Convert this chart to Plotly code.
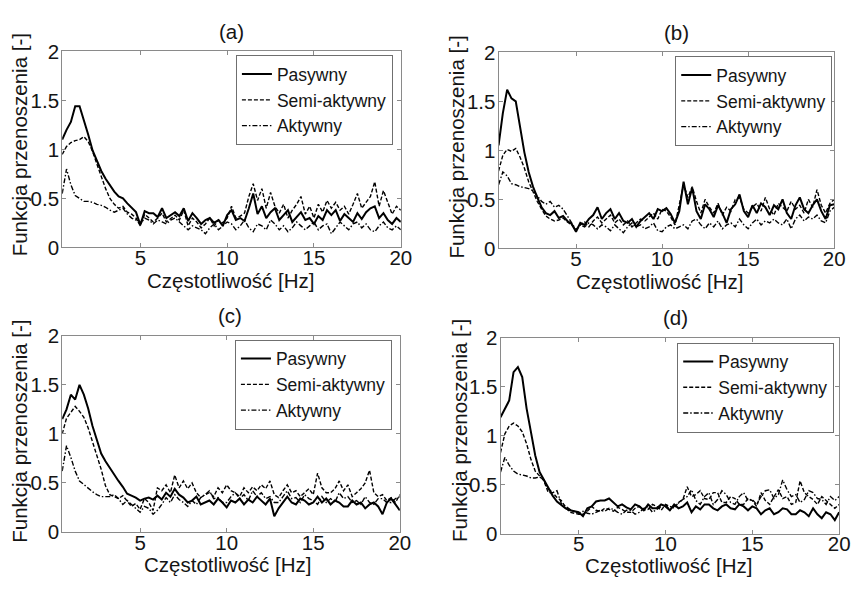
import plotly.graph_objects as go

# Frequency grid [Hz]
freq = [0.5, 0.75, 1.0, 1.25, 1.5, 1.75, 2.0, 2.25, 2.5, 2.75, 3.0, 3.25, 3.5, 3.75,
        4.0, 4.25, 4.5, 4.75, 5.0, 5.25, 5.5, 5.75, 6.0, 6.25, 6.5, 6.75, 7.0, 7.25,
        7.5, 7.75, 8.0, 8.25, 8.5, 8.75, 9.0, 9.25, 9.5, 9.75, 10.0, 10.25, 10.5, 10.75,
        11.0, 11.25, 11.5, 11.75, 12.0, 12.25, 12.5, 12.75, 13.0, 13.25, 13.5, 13.75,
        14.0, 14.25, 14.5, 14.75, 15.0, 15.25, 15.5, 15.75, 16.0, 16.25, 16.5, 16.75,
        17.0, 17.25, 17.5, 17.75, 18.0, 18.25, 18.5, 18.75, 19.0, 19.25, 19.5, 19.75, 20.0]

series_names = ["Pasywny", "Semi-aktywny", "Aktywny"]
panel_labels = ["(a)", "(b)", "(c)", "(d)"]
x_title = "Częstotliwość [Hz]"
y_title = "Funkcja przenoszenia [-]"
x_ticks = [5, 10, 15, 20]
y_ticks = [0, 0.5, 1, 1.5, 2]
y_tick_text = ["0", "0.5", "1", "1.5", "2"]

# ---- panel (a)
a_pas = [1.10, 1.20, 1.28, 1.44, 1.44, 1.30, 1.15, 0.99, 0.88, 0.78, 0.70, 0.63, 0.57, 0.52,
         0.50, 0.45, 0.40, 0.36, 0.23, 0.37, 0.35, 0.35, 0.31, 0.40, 0.30, 0.33, 0.36, 0.32,
         0.40, 0.27, 0.35, 0.30, 0.24, 0.28, 0.30, 0.25, 0.28, 0.22, 0.33, 0.38, 0.28, 0.30,
         0.27, 0.40, 0.55, 0.34, 0.42, 0.30, 0.36, 0.40, 0.28, 0.33, 0.38, 0.26,
         0.31, 0.36, 0.28, 0.30, 0.24, 0.32, 0.28, 0.38, 0.33, 0.38, 0.27, 0.34,
         0.30, 0.26, 0.35, 0.29, 0.36, 0.40, 0.42, 0.30, 0.35, 0.28, 0.24, 0.30, 0.26]
a_semi = [0.95, 1.03, 1.07, 1.09, 1.10, 1.13, 1.08, 0.98, 0.85, 0.72, 0.60, 0.50, 0.44, 0.40,
          0.42, 0.36, 0.34, 0.30, 0.22, 0.34, 0.30, 0.26, 0.30, 0.35, 0.26, 0.30, 0.33, 0.28,
          0.38, 0.22, 0.30, 0.26, 0.20, 0.24, 0.30, 0.22, 0.28, 0.25, 0.30, 0.42, 0.30, 0.32,
          0.35, 0.52, 0.65, 0.48, 0.60, 0.40, 0.56, 0.42, 0.35, 0.44, 0.30, 0.38,
          0.44, 0.52, 0.34, 0.42, 0.30, 0.44, 0.36, 0.48, 0.40, 0.46, 0.38, 0.42,
          0.34, 0.44, 0.55, 0.40, 0.46, 0.52, 0.67, 0.42, 0.58, 0.45, 0.34, 0.42, 0.38]
a_akt = [0.55, 0.80, 0.64, 0.53, 0.50, 0.47, 0.47, 0.46, 0.44, 0.43, 0.41, 0.38, 0.36, 0.38,
         0.40, 0.34, 0.30, 0.28, 0.24, 0.30, 0.28, 0.24, 0.28, 0.26, 0.24, 0.28, 0.30, 0.26,
         0.22, 0.18, 0.22, 0.20, 0.18, 0.14, 0.20, 0.24, 0.18, 0.22, 0.26, 0.24, 0.18, 0.22,
         0.28, 0.20, 0.16, 0.24, 0.22, 0.18, 0.28, 0.24, 0.18, 0.22, 0.16, 0.20,
         0.26, 0.22, 0.18, 0.22, 0.26, 0.18, 0.22, 0.24, 0.14, 0.20, 0.26, 0.22,
         0.18, 0.24, 0.26, 0.20, 0.24, 0.18, 0.16, 0.22, 0.26, 0.20, 0.18, 0.22, 0.18]

# ---- panel (b)
b_pas = [1.05, 1.38, 1.62, 1.53, 1.50, 1.22, 0.98, 0.78, 0.63, 0.52, 0.42, 0.36, 0.34, 0.38,
         0.31, 0.33, 0.28, 0.25, 0.17, 0.26, 0.24, 0.30, 0.34, 0.42, 0.30, 0.36, 0.40, 0.30,
         0.36, 0.28, 0.26, 0.30, 0.22, 0.28, 0.32, 0.36, 0.30, 0.40, 0.38, 0.41, 0.35, 0.26,
         0.38, 0.68, 0.45, 0.62, 0.38, 0.30, 0.45, 0.40, 0.32, 0.44, 0.36, 0.26,
         0.40, 0.45, 0.55, 0.38, 0.32, 0.44, 0.36, 0.46, 0.42, 0.34, 0.44, 0.40,
         0.50, 0.36, 0.30, 0.44, 0.52, 0.40, 0.36, 0.44, 0.50, 0.38, 0.30, 0.44, 0.45]
b_semi = [0.79, 0.95, 1.01, 0.99, 1.02, 0.93, 0.82, 0.68, 0.58, 0.48, 0.40, 0.33, 0.30, 0.28,
          0.29, 0.31, 0.27, 0.24, 0.19, 0.24, 0.27, 0.22, 0.28, 0.32, 0.26, 0.30, 0.34, 0.26,
          0.30, 0.24, 0.28, 0.22, 0.26, 0.30, 0.28, 0.32, 0.36, 0.30, 0.40, 0.38, 0.32, 0.24,
          0.45, 0.65, 0.52, 0.63, 0.48, 0.36, 0.50, 0.42, 0.36, 0.46, 0.34, 0.42,
          0.38, 0.50, 0.52, 0.40, 0.36, 0.42, 0.46, 0.38, 0.52, 0.40, 0.34, 0.46,
          0.42, 0.38, 0.48, 0.40, 0.44, 0.36, 0.50, 0.42, 0.60, 0.44, 0.36, 0.46, 0.50]
b_akt = [0.65, 0.78, 0.74, 0.66, 0.65, 0.63, 0.62, 0.61, 0.59, 0.53, 0.48, 0.45, 0.48, 0.42,
         0.44, 0.40, 0.33, 0.26, 0.19, 0.24, 0.22, 0.26, 0.24, 0.20, 0.24, 0.22, 0.18, 0.24,
         0.20, 0.16, 0.22, 0.26, 0.22, 0.24, 0.20, 0.22, 0.26, 0.18, 0.17, 0.22, 0.24, 0.20,
         0.22, 0.24, 0.20, 0.28, 0.30, 0.24, 0.20, 0.26, 0.22, 0.28, 0.20, 0.24,
         0.26, 0.22, 0.30, 0.24, 0.20, 0.26, 0.30, 0.24, 0.28, 0.26, 0.30, 0.26,
         0.24, 0.30, 0.20, 0.30, 0.34, 0.28, 0.32, 0.30, 0.34, 0.28, 0.26, 0.38, 0.42]

# ---- panel (c)
c_pas = [1.15, 1.25, 1.40, 1.35, 1.50, 1.40, 1.26, 1.08, 0.94, 0.80, 0.72, 0.65, 0.58, 0.52,
         0.46, 0.39, 0.37, 0.35, 0.32, 0.34, 0.35, 0.33, 0.37, 0.33, 0.40, 0.36, 0.44, 0.38,
         0.35, 0.30, 0.32, 0.36, 0.28, 0.30, 0.32, 0.28, 0.34, 0.30, 0.25, 0.32, 0.30, 0.34,
         0.28, 0.33, 0.30, 0.36, 0.32, 0.28, 0.34, 0.16, 0.24, 0.30, 0.36, 0.30,
         0.28, 0.34, 0.32, 0.28, 0.30, 0.36, 0.30, 0.34, 0.28, 0.32, 0.30, 0.26,
         0.26, 0.32, 0.28, 0.30, 0.24, 0.28, 0.30, 0.26, 0.18, 0.30, 0.34, 0.28, 0.22]
c_semi = [1.00, 1.16, 1.22, 1.28, 1.23, 1.17, 1.06, 0.92, 0.78, 0.64, 0.47, 0.38, 0.36, 0.34,
          0.37, 0.32, 0.26, 0.29, 0.23, 0.34, 0.30, 0.22, 0.45, 0.42, 0.48, 0.40, 0.58, 0.45,
          0.52, 0.44, 0.50, 0.40, 0.35, 0.38, 0.40, 0.36, 0.45, 0.40, 0.48, 0.42, 0.40, 0.36,
          0.45, 0.40, 0.46, 0.42, 0.48, 0.44, 0.52, 0.38, 0.35, 0.42, 0.48, 0.40,
          0.42, 0.36, 0.40, 0.44, 0.38, 0.60, 0.45, 0.40, 0.40, 0.44, 0.52, 0.42,
          0.48, 0.36, 0.40, 0.44, 0.50, 0.63, 0.40, 0.36, 0.38, 0.32, 0.35, 0.30, 0.38]
c_akt = [0.62, 0.88, 0.76, 0.62, 0.52, 0.48, 0.45, 0.41, 0.38, 0.36, 0.36, 0.36, 0.38, 0.34,
         0.28, 0.32, 0.28, 0.24, 0.20, 0.26, 0.24, 0.18, 0.22, 0.28, 0.35, 0.30, 0.38, 0.33,
         0.30, 0.26, 0.32, 0.28, 0.35, 0.38, 0.42, 0.34, 0.35, 0.30, 0.30, 0.36, 0.40, 0.34,
         0.38, 0.32, 0.42, 0.36, 0.40, 0.34, 0.36, 0.30, 0.30, 0.36, 0.42, 0.34,
         0.35, 0.30, 0.38, 0.34, 0.32, 0.28, 0.36, 0.30, 0.34, 0.30, 0.40, 0.34,
         0.36, 0.30, 0.32, 0.28, 0.36, 0.30, 0.28, 0.34, 0.34, 0.30, 0.30, 0.34, 0.36]

# ---- panel (d)
d_pas = [1.19, 1.28, 1.36, 1.65, 1.70, 1.60, 1.28, 1.04, 0.80, 0.63, 0.55, 0.46, 0.39, 0.33,
         0.29, 0.26, 0.24, 0.23, 0.22, 0.18, 0.26, 0.28, 0.33, 0.34, 0.34, 0.36, 0.32, 0.28,
         0.30, 0.27, 0.25, 0.30, 0.28, 0.24, 0.30, 0.26, 0.26, 0.30, 0.28, 0.24, 0.30, 0.26,
         0.28, 0.32, 0.22, 0.28, 0.25, 0.30, 0.30, 0.26, 0.24, 0.28, 0.30, 0.26,
         0.25, 0.30, 0.28, 0.24, 0.28, 0.26, 0.20, 0.24, 0.26, 0.20, 0.22, 0.26,
         0.25, 0.20, 0.20, 0.24, 0.22, 0.18, 0.26, 0.20, 0.16, 0.22, 0.20, 0.14, 0.22]
d_semi = [0.83, 1.02, 1.10, 1.13, 1.10, 1.04, 0.92, 0.76, 0.64, 0.59, 0.54, 0.42, 0.42, 0.37,
          0.34, 0.27, 0.22, 0.21, 0.20, 0.20, 0.23, 0.28, 0.24, 0.23, 0.26, 0.25, 0.23, 0.27,
          0.25, 0.22, 0.22, 0.26, 0.28, 0.24, 0.25, 0.30, 0.28, 0.24, 0.30, 0.28, 0.26, 0.32,
          0.35, 0.48, 0.38, 0.40, 0.44, 0.36, 0.35, 0.42, 0.42, 0.32, 0.32, 0.38,
          0.36, 0.30, 0.30, 0.36, 0.34, 0.28, 0.42, 0.34, 0.30, 0.38, 0.45, 0.36,
          0.38, 0.30, 0.32, 0.54, 0.42, 0.38, 0.35, 0.30, 0.38, 0.34, 0.30, 0.26, 0.30]
d_akt = [0.63, 0.78, 0.70, 0.64, 0.61, 0.60, 0.59, 0.57, 0.57, 0.58, 0.55, 0.46, 0.42, 0.44,
         0.31, 0.28, 0.25, 0.23, 0.21, 0.23, 0.21, 0.20, 0.22, 0.24, 0.23, 0.26, 0.25, 0.22,
         0.20, 0.24, 0.24, 0.20, 0.22, 0.26, 0.28, 0.22, 0.25, 0.28, 0.30, 0.24, 0.28, 0.32,
         0.35, 0.38, 0.45, 0.34, 0.30, 0.38, 0.42, 0.30, 0.35, 0.44, 0.40, 0.32,
         0.30, 0.38, 0.42, 0.34, 0.35, 0.30, 0.38, 0.44, 0.45, 0.36, 0.40, 0.55,
         0.45, 0.38, 0.40, 0.32, 0.35, 0.44, 0.42, 0.36, 0.35, 0.30, 0.38, 0.34, 0.38]

panels = [[a_pas, a_semi, a_akt], [b_pas, b_semi, b_akt],
          [c_pas, c_semi, c_akt], [d_pas, d_semi, d_akt]]

W, H = 861, 590
# plot-area rectangles in pixels: (left, right, top, bottom)
rects = [(63, 406, 41, 245), (505, 845, 42, 246), (63, 405, 337, 541), (507, 850, 339, 543)]
legend_pos = [(398, 45), (843, 46), (397, 341), (845, 344)]
title_pos = [(234, 20), (685, 21), (233, 316), (684, 318)]
xtitle_pos = [(233, 279), (668, 280), (230, 575), (677, 576)]
ytitle_pos = [(20, 138), (462, 141), (19, 436), (465, 436)]

line_styles = [dict(color="black", width=2.0, dash="solid"),
               dict(color="black", width=1.4, dash="4px,2px"),
               dict(color="black", width=1.4, dash="5px,2px,1.5px,2px")]

FONT = "Liberation Sans, Arial, sans-serif"
TXT = "#151515"
fig = go.Figure()
layout = dict(width=W, height=H, margin=dict(l=0, r=0, t=0, b=0),
              paper_bgcolor="white", plot_bgcolor="white",
              font=dict(family=FONT, color=TXT), annotations=[], showlegend=True)


def add_text(text, px, py, size, angle=0):
    layout["annotations"].append(dict(text=text, x=px / W, y=1 - py / H,
                                      xref="paper", yref="paper", showarrow=False,
                                      xanchor="center", yanchor="middle", textangle=angle,
                                      font=dict(size=size, family=FONT, color=TXT)))


for k in range(4):
    sfx = "" if k == 0 else str(k + 1)
    leg = "legend" + sfx
    for j in range(3):
        fig.add_trace(go.Scatter(x=freq, y=panels[k][j], mode="lines", name=series_names[j],
                                 line=line_styles[j], xaxis="x" + sfx, yaxis="y" + sfx,
                                 legend=leg, hoverinfo="skip"))
    l, r, t, b = rects[k]
    axis_common = dict(showline=True, linecolor="#8a8a8a", linewidth=1, mirror="ticks",
                       ticks="inside", ticklen=4, tickcolor="#8a8a8a", showgrid=False,
                       zeroline=False, tickfont=dict(size=20.5, family=FONT, color=TXT))
    layout["xaxis" + sfx] = dict(domain=[l / W, r / W], range=[0.5, 20],
                                 anchor="y" + sfx, tickvals=x_ticks,
                                 ticklabelstandoff=-8, **axis_common)
    layout["yaxis" + sfx] = dict(domain=[1 - b / H, 1 - t / H], range=[0, 2],
                                 anchor="x" + sfx, tickvals=y_ticks, ticktext=y_tick_text,
                                 ticklabelstandoff=-2, **axis_common)
    lx, ly = legend_pos[k]
    layout[leg] = dict(x=lx / W, y=1 - ly / H, xanchor="right", yanchor="top",
                       bgcolor="white", bordercolor="#6f6f6f", borderwidth=1,
                       font=dict(size=17.5, family=FONT, color=TXT),
                       tracegroupgap=0)
    add_text(panel_labels[k], *title_pos[k], 20.5)
    add_text(x_title, *xtitle_pos[k], 20.5)
    add_text(y_title, *ytitle_pos[k], 20.5, angle=-90)

fig.update_layout(**layout)
fig.write_html("out.html", config={"displayModeBar": False})
